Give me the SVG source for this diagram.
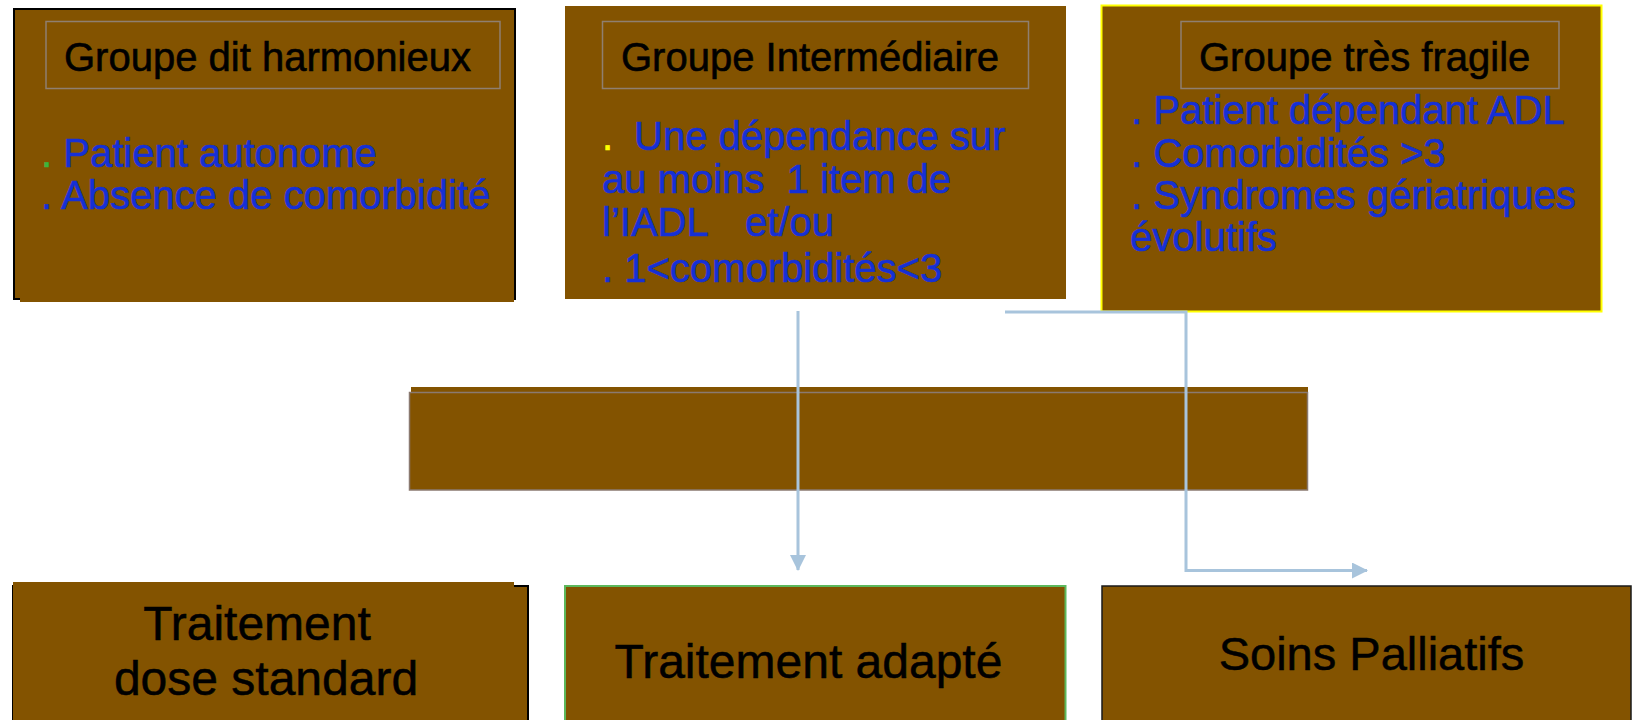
<svg xmlns="http://www.w3.org/2000/svg" width="1633" height="720" viewBox="0 0 1633 720">
<defs>
<style>
.box{fill:#835300}
.ttl{fill:none;stroke:#8f7f70;stroke-width:1.5}
.t{font-family:"Liberation Sans",Arial,sans-serif;font-size:40px;fill:#000;stroke:#000;stroke-width:0.6}
.b{font-family:"Liberation Sans",Arial,sans-serif;font-size:40px;fill:#1530d6;stroke:#1530d6;stroke-width:0.6}
.big{font-family:"Liberation Sans",Arial,sans-serif;font-size:48px;fill:#000;stroke:#000;stroke-width:0.5}
.con{fill:none;stroke:#a8c4dc;stroke-width:3}
</style>
<marker id="ah" viewBox="0 0 16 16" refX="15" refY="8" markerWidth="16" markerHeight="16" markerUnits="userSpaceOnUse" orient="auto">
<path d="M0,0 L16,8 L0,16 z" fill="#a8c4dc"/>
</marker>
</defs>
<rect width="1633" height="720" fill="#fff"/>

<g id="harmonieux">
<rect x="14" y="9" width="501" height="290" class="box" stroke="#000" stroke-width="2"/>
<rect x="20" y="296" width="494" height="6" class="box"/>
<rect x="46" y="21.5" width="454" height="67" class="ttl"/>
<text x="64" y="70.5" class="t">Groupe dit harmonieux</text>
<text x="41" y="167" class="b"><tspan fill="#3cb43c" stroke="#3cb43c">.</tspan> Patient autonome</text>
<text x="41" y="209" class="b">. Absence de comorbidité</text>
</g>

<g id="intermediaire">
<rect x="565" y="6" width="501" height="293" class="box"/>
<rect x="602.5" y="21.5" width="426" height="67" class="ttl"/>
<text x="621" y="70.7" class="t">Groupe Intermédiaire</text>
<text y="150" class="b"><tspan x="602" fill="#ffff00" stroke="#ffff00">.</tspan><tspan x="634">Une dépendance sur</tspan></text>
<text x="602" y="193" class="b" style="white-space:pre">au moins  1 item de</text>
<text y="236" class="b"><tspan x="602">l’IADL</tspan><tspan x="745">et/ou</tspan></text>
<text x="602" y="281.7" class="b">. 1&lt;comorbidités&lt;3</text>
</g>

<g id="fragile">
<rect x="1101.5" y="5.5" width="500" height="306" class="box" stroke="#ffff00" stroke-width="2"/>
<rect x="1181" y="21.5" width="378" height="67" class="ttl"/>
<text x="1199" y="70.7" class="t">Groupe très fragile</text>
<text x="1131" y="124" class="b">. Patient dépendant ADL</text>
<text x="1131" y="166.7" class="b">. Comorbidités &gt;3</text>
<text x="1131" y="209" class="b">. Syndromes gériatriques</text>
<text x="1130" y="250.7" class="b">évolutifs</text>
</g>

<g id="milieu">
<rect x="411" y="387" width="897" height="10" class="box"/>
<rect x="409.5" y="392.5" width="898" height="97.5" class="box" stroke="#8a7a70" stroke-width="1.5"/>
</g>

<g id="standard">
<rect x="13" y="586" width="515" height="140" class="box" stroke="#000" stroke-width="2"/>
<rect x="13" y="582" width="501" height="140" class="box"/>
<text x="257" y="640" class="big" text-anchor="middle">Traitement</text>
<text x="266" y="695" class="big" text-anchor="middle">dose standard</text>
</g>

<g id="adapte">
<rect x="565" y="586" width="500.5" height="140" class="box" stroke="#5cb85c" stroke-width="2"/>
<text x="808.5" y="678.3" class="big" text-anchor="middle">Traitement adapté</text>
</g>

<g id="palliatifs">
<rect x="1102" y="586" width="529" height="140" class="box" stroke="#1a1a1a" stroke-width="1.5"/>
<text x="1371.5" y="670" class="big" style="font-size:47px" text-anchor="middle">Soins Palliatifs</text>
</g>

<g id="connecteurs">
<path d="M798,311 V570" class="con" marker-end="url(#ah)"/>
<path d="M1005,312 H1186 V570.5 H1367" class="con" marker-end="url(#ah)"/>
</g>
</svg>
